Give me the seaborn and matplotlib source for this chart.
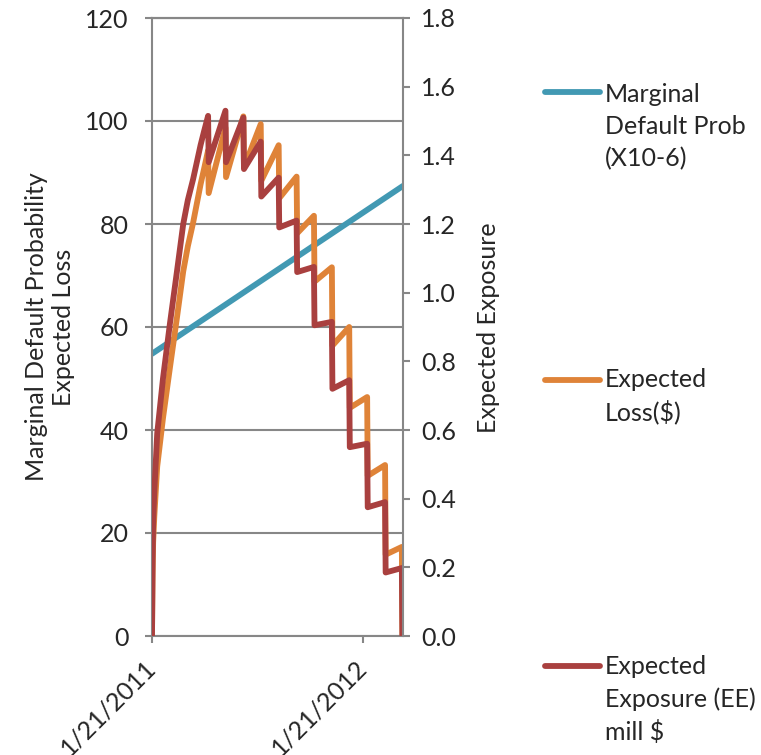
import matplotlib
matplotlib.use("Agg")
import matplotlib.pyplot as plt
import seaborn as sns
import pandas as pd
from matplotlib.lines import Line2D

# ---------------- data ----------------
ee_dates = ["2011-01-21", "2011-01-22", "2011-01-23", "2011-01-25", "2011-01-30",
            "2011-02-09", "2011-02-21", "2011-03-05", "2011-03-16", "2011-03-24",
            "2011-04-02", "2011-04-15", "2011-04-21",
            "2011-04-28", "2011-04-29", "2011-05-28", "2011-05-29",
            "2011-06-28", "2011-06-29", "2011-07-28", "2011-07-29",
            "2011-08-28", "2011-08-29", "2011-09-28", "2011-09-29",
            "2011-10-28", "2011-10-29", "2011-11-28", "2011-11-29",
            "2011-12-28", "2011-12-29", "2012-01-28", "2012-01-29",
            "2012-02-28", "2012-02-29", "2012-03-28", "2012-03-29"]
ee_values = [0.0, 0.22, 0.33, 0.42, 0.59, 0.75, 0.91, 1.06, 1.20, 1.27,
             1.33, 1.43, 1.47,
             1.515, 1.38, 1.53, 1.38, 1.51, 1.36, 1.44, 1.28,
             1.335, 1.19, 1.21, 1.06, 1.075, 0.905, 0.915, 0.72,
             0.745, 0.55, 0.56, 0.375, 0.39, 0.185, 0.198, 0.0]
el_values = [0.0, 12.0, 18.2, 23.2, 32.9, 42.3, 52.1, 61.7, 70.8, 75.7,
             80.2, 87.7, 90.7,
             94.3, 86.0, 98.7, 89.1, 100.9, 91.0, 99.4, 88.4,
             95.3, 85.0, 89.2, 78.2, 81.6, 68.8, 71.6, 56.4,
             60.0, 44.3, 46.4, 31.1, 33.2, 15.8, 17.3, 0.0]
pd_dates = ["2011-01-21", "2012-03-30"]
pd_values = [54.8, 87.4]

x_tick_dates = ["2011-01-21", "2012-01-21"]
x_tick_labels = ["1/21/2011", "1/21/2012"]
left_ticks = [0, 20, 40, 60, 80, 100, 120]
right_ticks = [0.0, 0.2, 0.4, 0.6, 0.8, 1.0, 1.2, 1.4, 1.6, 1.8]
series_names = ["Marginal\nDefault Prob\n(X10-6)", "Expected\nLoss($)",
                "Expected\nExposure (EE)\nmill $"]
left_title = "Marginal Default Probability\nExpected Loss"
right_title = "Expected Exposure"

# ---------------- styling ----------------
sns.set_theme(style="white")
plt.rcParams["font.family"] = ["Lato", "DejaVu Sans"]
FS = 18
GRAY = "#878787"
C_PD, C_EL, C_EE = "#4299B3", "#DF8338", "#A9403F"
LW = 4.2

df_ee = pd.DataFrame({"date": pd.to_datetime(ee_dates), "ee": ee_values, "el": el_values})
df_pd = pd.DataFrame({"date": pd.to_datetime(pd_dates), "pd": pd_values})

W, H = 761, 755
fig = plt.figure(figsize=(W / 100, H / 100), dpi=100)
L, R, T, B = 152, 403, 18, 636
ax = fig.add_axes([L / W, 1 - B / H, (R - L) / W, (B - T) / H])
ax2 = ax.twinx()

line_kw = dict(estimator=None, sort=False, linewidth=LW,
               solid_joinstyle="round", solid_capstyle="round")
sns.lineplot(data=df_pd, x="date", y="pd", ax=ax, color=C_PD, **line_kw)
sns.lineplot(data=df_ee, x="date", y="el", ax=ax, color=C_EL, **line_kw)
sns.lineplot(data=df_ee, x="date", y="ee", ax=ax2, color=C_EE, **line_kw)

ax.set_xlim(pd.Timestamp("2011-01-21"), pd.Timestamp("2012-03-30"))
ax.set_ylim(0, 120)
ax2.set_ylim(0, 1.8)

ax.set_yticks(left_ticks)
ax.set_yticklabels([str(v) for v in left_ticks], fontsize=FS)
ax2.set_yticks(right_ticks)
ax2.set_yticklabels([f"{v:.1f}" for v in right_ticks], fontsize=FS)
ax.set_xticks(pd.to_datetime(x_tick_dates))
ax.set_xticklabels(x_tick_labels, fontsize=FS, rotation=45, ha="right",
                   va="center", rotation_mode="anchor")

ax.set_xlabel("")
ax.set_ylabel("")
ax2.set_ylabel("")

ax.grid(axis="y", color=GRAY, linewidth=1.5)
ax.set_axisbelow(True)
for a in (ax, ax2):
    for s in a.spines.values():
        s.set_color(GRAY)
        s.set_linewidth(1.5)
ax2.spines["left"].set_visible(False)
ax2.spines["bottom"].set_visible(False)
ax.spines["right"].set_visible(False)

ax.tick_params(axis="y", direction="out", length=5, width=1.5, color=GRAY, pad=12, left=True)
ax.tick_params(axis="x", direction="out", length=5, width=1.5, color=GRAY, pad=15, bottom=True)
ax2.tick_params(axis="y", direction="out", length=5, width=1.5, color=GRAY, pad=8, right=True)

# axis titles
fig.text(50 / W, 1 - 327 / H, left_title, rotation=90, ha="center", va="center",
         fontsize=FS, multialignment="center", linespacing=1.2)
fig.text(488 / W, 1 - 328 / H, right_title, rotation=90, ha="center", va="center",
         fontsize=FS)

# legend (outside right)
legend_items = [(C_PD, 92, [102, 134, 166], series_names[0]),
                (C_EL, 380, [387, 420], series_names[1]),
                (C_EE, 666, [674, 707, 740], series_names[2])]
for color, ly, baselines, name in legend_items:
    fig.add_artist(Line2D([545 / W, 600 / W], [1 - ly / H, 1 - ly / H], color=color,
                          linewidth=LW, solid_capstyle="round", transform=fig.transFigure))
    for txt, by in zip(name.split("\n"), baselines):
        fig.text(605 / W, 1 - by / H, txt, ha="left", va="baseline", fontsize=FS)

fig.savefig("out.png", dpi=100)
